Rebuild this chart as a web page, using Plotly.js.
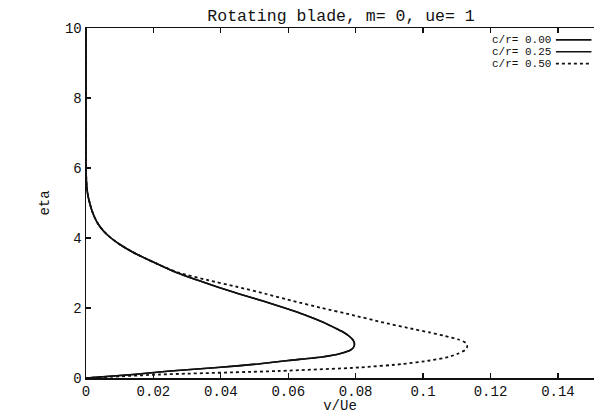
<!DOCTYPE html>
<html>
<head>
<meta charset="utf-8">
<script src="https://cdn.plot.ly/plotly-3.0.1.min.js"></script>
<style>html,body{margin:0;padding:0;background:#fff}#chart{width:594px;height:414px}</style>
</head>
<body>
<div id="chart"></div>
<script>
// eta values (vertical axis)
const eta = [0, 0.1, 0.2, 0.3, 0.4, 0.5, 0.6, 0.7, 0.8, 0.9, 1.0, 1.1, 1.2, 1.3, 1.4, 1.6, 1.8, 2.0, 2.2, 2.4, 2.6, 2.8, 3.0, 3.2, 3.4, 3.6, 3.8, 4.0, 4.2, 4.4, 4.6, 4.8, 5.0, 5.2, 5.5, 6.0, 7.0, 8.0, 9.0, 10.0];
// v/Ue for c/r = 0.00
const v_cr000 = [0, 0.014, 0.025, 0.039, 0.051, 0.060, 0.070, 0.0755, 0.0785, 0.0795, 0.0796, 0.0791, 0.0780, 0.0765, 0.0745, 0.0702, 0.0650, 0.0590, 0.0525, 0.0455, 0.0390, 0.0330, 0.0272, 0.0225, 0.0180, 0.0138, 0.0103, 0.0074, 0.0052, 0.0036, 0.0025, 0.0017, 0.0011, 0.0006, 0.0002, 0, 0, 0, 0, 0];
// v/Ue for c/r = 0.25 (overlaps c/r = 0.00 in the picture)
const v_cr025 = [0, 0.014, 0.025, 0.039, 0.051, 0.060, 0.070, 0.0755, 0.0785, 0.0795, 0.0796, 0.0791, 0.0780, 0.0765, 0.0745, 0.0702, 0.0650, 0.0590, 0.0525, 0.0455, 0.0390, 0.0330, 0.0272, 0.0225, 0.0180, 0.0138, 0.0103, 0.0074, 0.0052, 0.0036, 0.0025, 0.0017, 0.0011, 0.0006, 0.0002, 0, 0, 0, 0, 0];
// v/Ue for c/r = 0.50
const v_cr050 = [0, 0.022, 0.057, 0.081, 0.094, 0.102, 0.1075, 0.1105, 0.1125, 0.1131, 0.1127, 0.1105, 0.1065, 0.1020, 0.0970, 0.0875, 0.0790, 0.0700, 0.0615, 0.0535, 0.0450, 0.0360, 0.0278, 0.0225, 0.0180, 0.0138, 0.0103, 0.0074, 0.0052, 0.0036, 0.0025, 0.0017, 0.0011, 0.0006, 0.0002, 0, 0, 0, 0, 0];

const seriesNames = ['c/r= 0.00', 'c/r= 0.25', 'c/r= 0.50'];
const xTicks = [0, 0.02, 0.04, 0.06, 0.08, 0.1, 0.12, 0.14];
const xTickText = ['0', '0.02', '0.04', '0.06', '0.08', '0.1', '0.12', '0.14'];
const yTicks = [0, 2, 4, 6, 8, 10];

const FONT = 'Liberation Mono, Courier New, monospace';
const dashes = ['solid', 'solid', 'dot'];
const widths = [1.6, 1.6, 1.8];
const series = [v_cr000, v_cr025, v_cr050];

const traces = series.map((v, i) => ({
  x: v, y: eta, type: 'scatter', mode: 'lines', name: seriesNames[i],
  line: {color: '#111', width: widths[i], dash: dashes[i], shape: 'spline', smoothing: 0.6},
  showlegend: false, cliponaxis: true
}));

// legend drawn as text + sample lines (tightly packed like the original)
const legRows = [0.966, 0.932, 0.898];
const annotations = seriesNames.map((n, i) => ({
  xref: 'paper', yref: 'paper', x: 0.918, y: legRows[i], xanchor: 'right', yanchor: 'middle',
  text: n, showarrow: false, font: {family: FONT, size: 11, color: '#111'}, borderpad: 0
}));
const shapes = seriesNames.map((n, i) => ({
  type: 'line', xref: 'paper', yref: 'paper', x0: 0.925, x1: 0.995, y0: legRows[i], y1: legRows[i],
  line: {color: '#111', width: widths[i], dash: dashes[i]}
}));

const axisCommon = {
  showline: true, linecolor: '#111', linewidth: 1.5,
  ticks: 'inside', ticklen: 5, tickcolor: '#111', tickwidth: 1.2,
  showgrid: false, zeroline: false,
  tickfont: {family: FONT, size: 14, color: '#111'}
};

const layout = {
  width: 594, height: 414,
  margin: {l: 86, r: 0, t: 28, b: 36},
  paper_bgcolor: '#fff', plot_bgcolor: '#fff',
  title: {text: 'Rotating blade, m= 0, ue= 1', font: {family: FONT, size: 16.5, color: '#111'},
          x: 0.502, xanchor: 'center', xref: 'paper', y: 0.963, yanchor: 'middle'},
  xaxis: Object.assign({}, axisCommon, {
    mirror: 'allticks',
    range: [0, 0.1507], tickvals: xTicks, ticktext: xTickText,
    title: {text: 'v/Ue', font: {family: FONT, size: 14, color: '#111'}, standoff: 2}
  }),
  yaxis: Object.assign({}, axisCommon, {
    mirror: false,
    range: [0, 10], tickvals: yTicks,
    title: {text: 'eta', font: {family: FONT, size: 14, color: '#111'}, standoff: 12}
  }),
  annotations: annotations,
  shapes: shapes
};

Plotly.newPlot('chart', traces, layout, {displayModeBar: false, staticPlot: true});
</script>
</body>
</html>
